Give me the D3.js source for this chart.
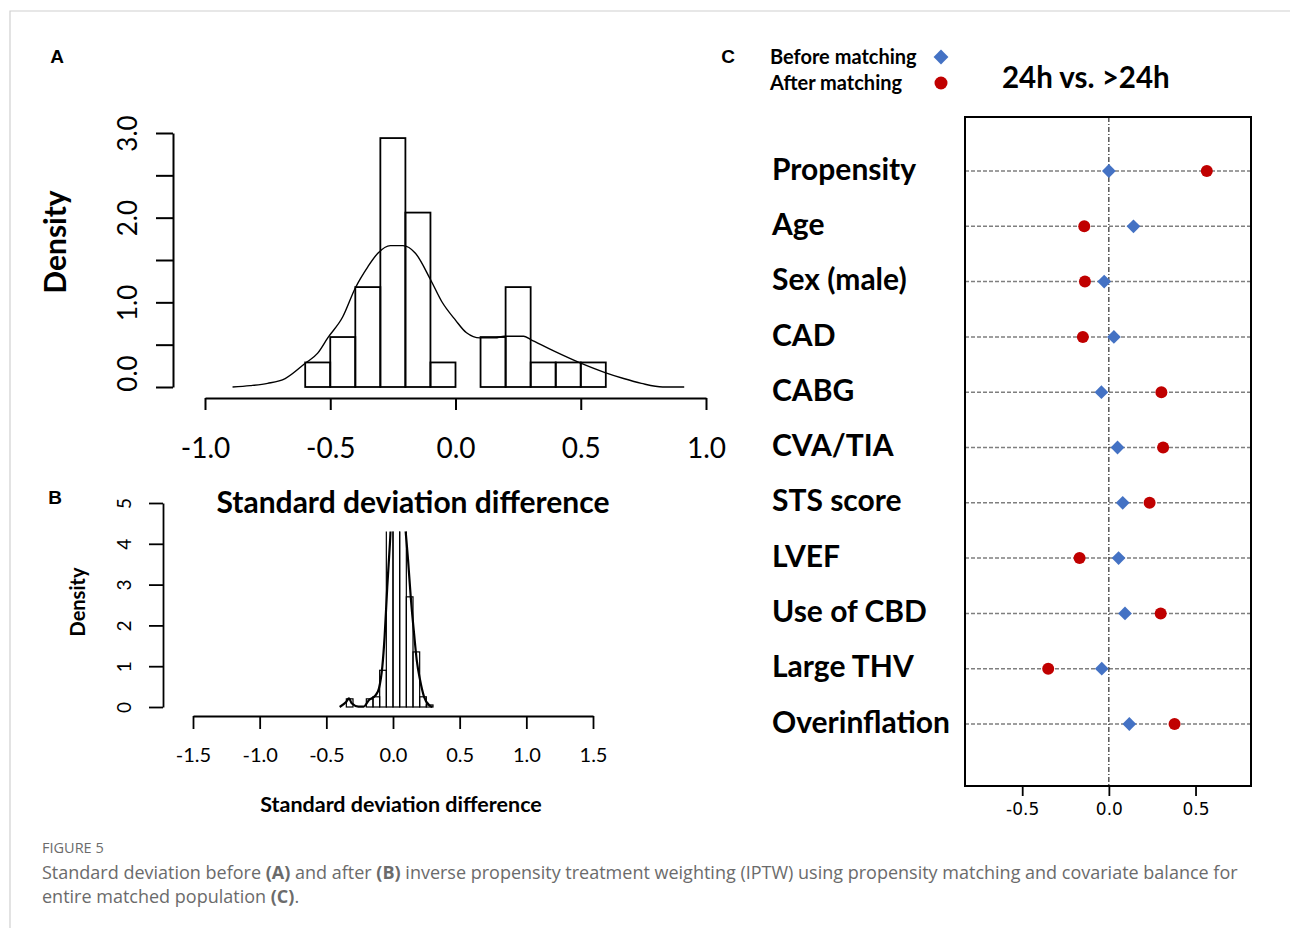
<!DOCTYPE html>
<html>
<head>
<meta charset="utf-8">
<script src="https://cdn.jsdelivr.net/npm/d3@7"></script>
<style>
  body { margin: 0; background: #fff; }
  svg { display: block; }
</style>
</head>
<body>
<div class="svg-container"></div>
<script>
// panel A: histogram before weighting (bin width 0.1)
const binStartA = [-0.6, -0.5, -0.4, -0.3, -0.2, -0.1, 0.0, 0.1, 0.2, 0.3, 0.4, 0.5]
const densityA = [0.29, 0.59, 1.18, 2.94, 2.06, 0.29, 0, 0.59, 1.18, 0.29, 0.29, 0.29]
const curveAx = [-0.89, -0.82, -0.75, -0.68, -0.60, -0.55, -0.51, -0.45, -0.40, -0.35, -0.31, -0.26, -0.21, -0.16, -0.10, -0.055, 0.0, 0.044, 0.098, 0.158, 0.195, 0.272, 0.30, 0.396, 0.493, 0.597, 0.671, 0.742, 0.827, 0.913]
const curveAy = [0.0, 0.016, 0.043, 0.10, 0.28, 0.40, 0.58, 0.83, 1.17, 1.42, 1.58, 1.67, 1.67, 1.58, 1.27, 1.01, 0.79, 0.64, 0.58, 0.58, 0.60, 0.60, 0.56, 0.42, 0.29, 0.17, 0.10, 0.043, 0.0, 0.0]
const xTicksA = [-1, -0.5, 0, 0.5, 1]
const yTicksA = [0, 0.5, 1, 1.5, 2, 2.5, 3]

// panel B: histogram after weighting (bin width 0.05)
const binStartB = [-0.35, -0.30, -0.25, -0.20, -0.15, -0.10, -0.05, 0.00, 0.05, 0.10, 0.15, 0.20, 0.25]
const densityB = [0.2, 0, 0, 0.2, 0.25, 0.9, 4.6, 4.6, 4.6, 2.7, 1.35, 0.25, 0.05]
const curveBx = [-0.40, -0.35, -0.33, -0.31, -0.26, -0.22, -0.18, -0.13, -0.105, -0.08, -0.063, -0.043, -0.023, -0.01, 0.03, 0.08, 0.095, 0.113, 0.133, 0.158, 0.178, 0.203, 0.233, 0.27, 0.295]
const curveBy = [0.0, 0.13, 0.21, 0.09, 0.01, 0.01, 0.17, 0.29, 0.46, 0.99, 1.72, 2.95, 4.01, 4.8, 5.3, 4.9, 4.3, 3.6, 2.7, 1.8, 1.15, 0.66, 0.25, 0.05, 0.0]
const xTicksB = [-1.5, -1.0, -0.5, 0, 0.5, 1.0, 1.5]
const yTicksB = [0, 1, 2, 3, 4, 5]

// panel C: covariate balance
const covariates = ['Propensity', 'Age', 'Sex (male)', 'CAD', 'CABG', 'CVA/TIA', 'STS score', 'LVEF', 'Use of CBD', 'Large THV', 'Overinflation']
const beforeMatching = [0.00, 0.142, -0.027, 0.029, -0.043, 0.05, 0.08, 0.056, 0.093, -0.041, 0.118]
const afterMatching = [0.565, -0.142, -0.138, -0.15, 0.303, 0.313, 0.235, -0.169, 0.299, -0.35, 0.379]
const xTicksC = [-0.5, 0, 0.5]

const blue = '#4472c4'
const red = '#c00000'
const fnt = 'Lato, "Open Sans", sans-serif'

const svg = d3.select('.svg-container').append('svg')
    .attr('width', 1290)
    .attr('height', 928)

// outer frame
svg.append('path')
    .attr('d', 'M10,928V11H1290')
    .attr('fill', 'none')
    .attr('stroke', '#d0d0d0')
    .attr('stroke-width', 1.2)

const fmt = d => d.toFixed(1)

// ---------- panel A ----------
const xA = d3.scaleLinear().domain([-1, 1]).range([205, 706])
const yA = d3.scaleLinear().domain([0, 3]).range([387, 133])

const gA = svg.append('g')

gA.selectAll('rect.binA')
    .data(binStartA)
    .enter()
    .append('rect')
    .attr('class', 'binA')
    .attr('x', d => xA(d))
    .attr('width', d => xA(d + 0.1) - xA(d))
    .attr('y', (d, i) => yA(densityA[i]))
    .attr('height', (d, i) => yA(0) - yA(densityA[i]))
    .attr('fill', 'none')
    .attr('stroke', '#000')
    .attr('stroke-width', 1.8)

const lineA = d3.line()
    .x(d => xA(d[0]))
    .y(d => yA(d[1]))
    .curve(d3.curveMonotoneX)

gA.append('path')
    .datum(curveAx.map((x, i) => [x, curveAy[i]]))
    .attr('d', lineA)
    .attr('fill', 'none')
    .attr('stroke', '#000')
    .attr('stroke-width', 1.4)

const axXA = gA.append('g')
    .attr('transform', 'translate(0,398)')
    .call(d3.axisBottom(xA).tickValues(xTicksA).tickSize(12).tickSizeOuter(0).tickFormat(fmt))
axXA.select('.domain').attr('stroke-width', 2)
axXA.selectAll('.tick line').attr('stroke-width', 2)
axXA.selectAll('text')
    .attr('font-family', fnt)
    .attr('font-size', 28)
    .attr('fill', '#000')
    .attr('dy', '1.6em')

const axYA = gA.append('g')
    .attr('transform', 'translate(173,0)')
    .call(d3.axisLeft(yA).tickValues(yTicksA).tickSize(17).tickSizeOuter(0).tickFormat(d => Number.isInteger(d) ? fmt(d) : ''))
axYA.select('.domain').attr('stroke-width', 2)
axYA.selectAll('.tick line').attr('stroke-width', 2)
axYA.selectAll('text')
    .attr('font-family', fnt)
    .attr('font-size', 26)
    .attr('fill', '#000')
    .attr('x', 0)
    .attr('dy', 0)
    .attr('transform', d => `translate(-43,${d === 0 ? -14 : 0}) rotate(-90)`)
    .attr('text-anchor', 'middle')
    .attr('dominant-baseline', 'middle')

gA.append('text')
    .attr('transform', 'translate(58,242) rotate(-90)')
    .attr('text-anchor', 'middle')
    .attr('dominant-baseline', 'middle')
    .attr('font-family', fnt)
    .attr('font-weight', 'bold')
    .attr('font-size', 30)
    .text('Density')

// ---------- panel B ----------
const xB = d3.scaleLinear().domain([-1.5, 1.5]).range([193, 593])
const yB = d3.scaleLinear().domain([0, 5]).range([707, 503])

svg.append('clipPath').attr('id', 'clipB')
    .append('rect')
    .attr('x', 180).attr('y', yB(4.3))
    .attr('width', 420).attr('height', yB(0) - yB(4.3) + 10)

const gB = svg.append('g')
const marksB = gB.append('g').attr('clip-path', 'url(#clipB)')

marksB.selectAll('rect.binB')
    .data(binStartB)
    .enter()
    .append('rect')
    .attr('class', 'binB')
    .attr('x', d => xB(d))
    .attr('width', d => xB(d + 0.05) - xB(d))
    .attr('y', (d, i) => yB(densityB[i]))
    .attr('height', (d, i) => yB(0) - yB(densityB[i]))
    .attr('fill', 'none')
    .attr('stroke', '#000')
    .attr('stroke-width', 1.2)

const lineB = d3.line()
    .x(d => xB(d[0]))
    .y(d => yB(d[1]))
    .curve(d3.curveMonotoneX)

marksB.append('path')
    .datum(curveBx.map((x, i) => [x, curveBy[i]]))
    .attr('d', lineB)
    .attr('fill', 'none')
    .attr('stroke', '#000')
    .attr('stroke-width', 2.2)

const axXB = gB.append('g')
    .attr('transform', 'translate(0,716)')
    .call(d3.axisBottom(xB).tickValues(xTicksB).tickSize(13).tickSizeOuter(0).tickFormat(fmt))
axXB.select('.domain').attr('stroke-width', 1.8)
axXB.selectAll('.tick line').attr('stroke-width', 1.8)
axXB.selectAll('text')
    .attr('font-family', fnt)
    .attr('font-size', 20)
    .attr('fill', '#000')
    .attr('dy', '1.5em')

const axYB = gB.append('g')
    .attr('transform', 'translate(163,0)')
    .call(d3.axisLeft(yB).tickValues(yTicksB).tickSize(14).tickSizeOuter(0).tickFormat(d => d))
axYB.select('.domain').attr('stroke-width', 1.8)
axYB.selectAll('.tick line').attr('stroke-width', 1.8)
axYB.selectAll('text')
    .attr('font-family', fnt)
    .attr('font-size', 19)
    .attr('fill', '#000')
    .attr('x', 0)
    .attr('dy', 0)
    .attr('transform', 'translate(-37,0) rotate(-90)')
    .attr('text-anchor', 'middle')
    .attr('dominant-baseline', 'middle')

gB.append('text')
    .attr('transform', 'translate(80,602) rotate(-90)')
    .attr('text-anchor', 'middle')
    .attr('dominant-baseline', 'middle')
    .attr('font-family', fnt)
    .attr('font-weight', 'bold')
    .attr('font-size', 20)
    .text('Density')

gB.append('text')
    .attr('x', 413).attr('y', 505)
    .attr('text-anchor', 'middle')
    .attr('dominant-baseline', 'middle')
    .attr('font-family', fnt)
    .attr('font-weight', 'bold')
    .attr('font-size', 30)
    .text('Standard deviation difference')

gB.append('text')
    .attr('x', 401).attr('y', 806)
    .attr('text-anchor', 'middle')
    .attr('dominant-baseline', 'middle')
    .attr('font-family', fnt)
    .attr('font-weight', 'bold')
    .attr('font-size', 21.5)
    .text('Standard deviation difference')

// ---------- panel C ----------
const xC = d3.scaleLinear().domain([-0.83, 0.82]).range([965, 1251])
const yC = d3.scalePoint().domain(covariates).range([171, 724])
const boxTop = 117, boxBottom = 786

const gC = svg.append('g')

gC.selectAll('line.row')
    .data(covariates)
    .enter()
    .append('line')
    .attr('class', 'row')
    .attr('x1', xC.range()[0]).attr('x2', xC.range()[1])
    .attr('y1', d => yC(d)).attr('y2', d => yC(d))
    .attr('stroke', '#7f7f7f')
    .attr('stroke-width', 1.5)
    .attr('stroke-dasharray', '4,2')

gC.append('line')
    .attr('x1', xC(0)).attr('x2', xC(0))
    .attr('y1', boxTop).attr('y2', boxBottom)
    .attr('stroke', '#000')
    .attr('stroke-width', 1)
    .attr('stroke-dasharray', '5,2,1,2')

gC.selectAll('path.before')
    .data(covariates)
    .enter()
    .append('path')
    .attr('class', 'before')
    .attr('d', d3.symbol().type(d3.symbolSquare).size(95))
    .attr('transform', (d, i) => `translate(${xC(beforeMatching[i])},${yC(d)}) rotate(45)`)
    .attr('fill', blue)

gC.selectAll('circle.after')
    .data(covariates)
    .enter()
    .append('circle')
    .attr('class', 'after')
    .attr('cx', (d, i) => xC(afterMatching[i]))
    .attr('cy', d => yC(d))
    .attr('r', 6)
    .attr('fill', red)

gC.append('rect')
    .attr('x', xC.range()[0]).attr('y', boxTop)
    .attr('width', xC.range()[1] - xC.range()[0])
    .attr('height', boxBottom - boxTop)
    .attr('fill', 'none')
    .attr('stroke', '#000')
    .attr('stroke-width', 2)

const axXC = gC.append('g')
    .attr('transform', `translate(0,${boxBottom})`)
    .call(d3.axisBottom(xC).tickValues(xTicksC).tickSize(10).tickFormat(fmt))
axXC.select('.domain').remove()
axXC.selectAll('.tick line').attr('stroke-width', 1.8)
axXC.selectAll('text')
    .attr('font-family', '"DejaVu Sans", sans-serif')
    .attr('font-size', 17)
    .attr('fill', '#000')
    .attr('dy', '0.95em')

gC.selectAll('text.cov')
    .data(covariates)
    .enter()
    .append('text')
    .attr('class', 'cov')
    .attr('x', 772)
    .attr('y', d => yC(d) + 1)
    .attr('dominant-baseline', 'middle')
    .attr('font-family', fnt)
    .attr('font-weight', 'bold')
    .attr('font-size', 30)
    .text(d => d)

// legend + title
const legend = svg.append('g')
legend.append('text').attr('x', 770).attr('y', 59).text('Before matching')
legend.append('text').attr('x', 770).attr('y', 85).text('After matching')
legend.selectAll('text')
    .attr('dominant-baseline', 'middle')
    .attr('font-family', fnt)
    .attr('font-weight', 'bold')
    .attr('font-size', 20)
legend.append('path')
    .attr('d', d3.symbol().type(d3.symbolSquare).size(110))
    .attr('transform', 'translate(941,57) rotate(45)')
    .attr('fill', blue)
legend.append('circle')
    .attr('cx', 941).attr('cy', 83).attr('r', 6.5)
    .attr('fill', red)

svg.append('text')
    .attr('x', 1002).attr('y', 80)
    .attr('dominant-baseline', 'middle')
    .attr('font-family', fnt)
    .attr('font-weight', 'bold')
    .attr('font-size', 29.5)
    .text('24h vs. >24h')

// panel letters
const letters = [['A', 57, 58], ['B', 55, 499], ['C', 728, 58]]
svg.selectAll('text.letter')
    .data(letters)
    .enter()
    .append('text')
    .attr('class', 'letter')
    .attr('x', d => d[1]).attr('y', d => d[2])
    .attr('text-anchor', 'middle')
    .attr('dominant-baseline', 'middle')
    .attr('font-family', '"Liberation Sans", Arial, sans-serif')
    .attr('font-weight', 'bold')
    .attr('font-size', 19)
    .text(d => d[0])

// caption
svg.append('text')
    .attr('x', 42).attr('y', 853)
    .attr('font-family', '"Open Sans", sans-serif')
    .attr('font-size', 14.5)
    .attr('fill', '#6b6b6b')
    .text('FIGURE 5')

const cap1 = svg.append('text')
    .attr('x', 42).attr('y', 879)
    .attr('font-family', '"Open Sans", sans-serif')
    .attr('font-size', 18)
    .attr('fill', '#6b6b6b')
cap1.append('tspan').text('Standard deviation before ')
cap1.append('tspan').attr('font-weight', 'bold').text('(A)')
cap1.append('tspan').text(' and after ')
cap1.append('tspan').attr('font-weight', 'bold').text('(B)')
cap1.append('tspan').text(' inverse propensity treatment weighting (IPTW) using propensity matching and covariate balance for')

const cap2 = svg.append('text')
    .attr('x', 42).attr('y', 903)
    .attr('font-family', '"Open Sans", sans-serif')
    .attr('font-size', 18)
    .attr('fill', '#6b6b6b')
cap2.append('tspan').text('entire matched population ')
cap2.append('tspan').attr('font-weight', 'bold').text('(C)')
cap2.append('tspan').text('.')
</script>
</body>
</html>
